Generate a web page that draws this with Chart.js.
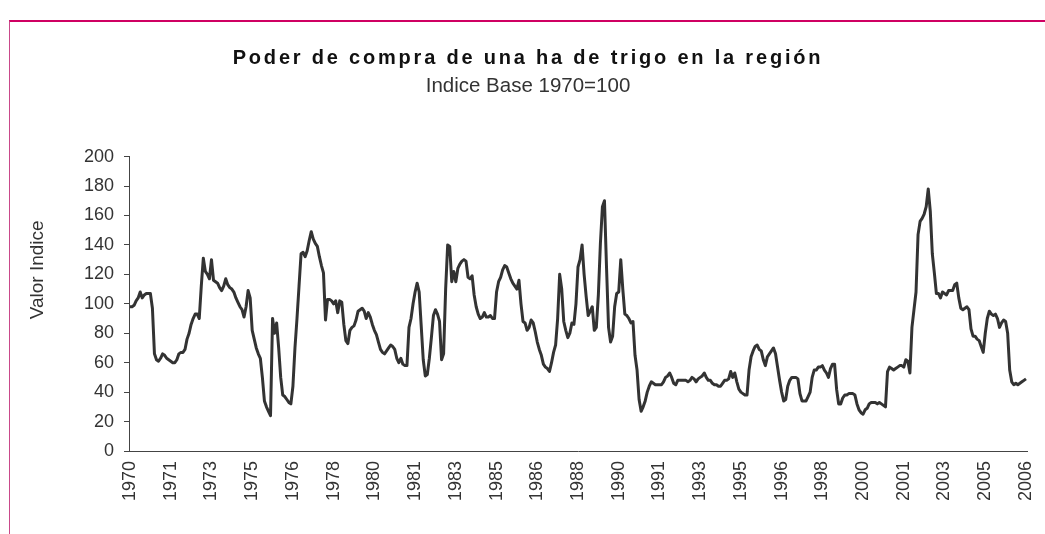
<!DOCTYPE html>
<html lang="es">
<head>
    <meta charset="UTF-8">
    <title>Poder de compra de una ha de trigo en la región</title>
    <script src="https://cdn.jsdelivr.net/npm/chart.js"></script>
    <style>
        html, body { margin: 0; padding: 0; background: #fff; overflow: hidden; }
        #marco { position: relative; width: 1045px; height: 534px; }
        /* borde rosa del recuadro original (solo arriba e izquierda visibles) */
        #borde { position: absolute; left: 9px; top: 20px; right: -10px; bottom: -10px;
                 border-top: 2px solid #cf0062; border-left: 1px solid #c9498a; }
        canvas { position: absolute; left: 0; top: 0; }
    </style>
</head>
<body>
<div id="marco">
    <div id="borde"></div>
    <canvas id="graficoTrigo" width="1045" height="534"></canvas>
</div>

<script>
    // Serie mensual desde enero de 1970
    const anioInicio = 1970;
    const intervaloEtiquetas = 20; // una etiqueta cada 20 meses, como en el original
    const marcasY = { min: 0, max: 200, paso: 20 };

    const valores = [
        98, 98, 99, 102, 104, 108, 104, 106, 107, 107, 107, 97, 66,
        62, 61, 63, 66, 65, 63, 62, 61, 60, 60, 62, 66,
        67, 67, 69, 76, 80, 86, 90, 93, 93, 90, 112, 131,
        122, 120, 117, 130, 116,
        115, 114, 111, 109, 112, 117, 113, 111, 110, 108, 104, 101,
        98, 96, 91, 98, 109, 104, 82, 76, 70, 66, 63, 50,
        34, 30, 27, 24, 90, 80, 87, 70, 50, 38, 37, 35,
        33, 32, 44, 70, 90, 112, 134, 135, 132, 136, 143, 149,
        144, 141, 139, 132, 126, 121, 89, 103, 103,
        102, 100, 102, 94, 102, 101, 86, 75, 73, 82, 84, 85,
        89, 95, 96, 97, 95, 90, 94, 91, 86, 82, 79, 74,
        69, 67, 66, 68, 70, 72, 71, 69, 63, 60, 63, 59, 58, 58,
        84, 90, 100, 108, 114, 108, 85, 62, 51, 52, 63, 77, 92, 96, 93, 88,
        62, 66, 110, 140, 139, 115, 122, 115, 124, 127, 129, 130, 129,
        118, 117, 119, 106, 98, 93, 90, 91, 94, 91, 91, 92, 90, 90,
        108, 115, 118, 123, 126, 125, 121, 117, 114, 112, 110, 116, 100,
        88, 87, 82, 84, 89, 87, 81, 74, 69, 65, 59, 57, 56, 54, 60, 67,
        72, 90, 120,
        110, 88, 82, 77, 80, 87, 86, 100, 125, 130, 140, 120, 105,
        92, 95, 98, 82, 84, 106, 141, 166, 170, 125, 84, 74, 78, 98, 107, 108,
        130, 110, 93, 92, 90, 87, 88, 65, 55, 35, 27, 30, 34, 40, 44,
        47, 46, 45, 45, 45, 45, 47, 50, 51, 53, 50, 46, 45,
        48, 48, 48, 48, 48, 47, 48, 50, 49, 47, 49, 50, 51,
        53, 50, 48, 48, 46, 45, 45, 44, 44, 46, 48, 48, 49,
        54, 50, 53, 47, 42, 40, 39, 38, 38, 55, 64, 68, 71,
        72, 69, 68, 62, 58, 64, 66, 68, 70, 66, 57, 48, 40, 34,
        35, 44, 48, 50, 50, 50, 49, 39, 34, 34, 34, 37, 40,
        50, 55, 55, 57, 57, 58, 55, 53, 50, 56, 59, 59,
        42, 32, 32, 36, 38, 38, 39, 39, 39, 38, 32, 28, 26,
        25, 28, 29, 32, 33, 33, 33, 32, 33, 32, 31, 30,
        54, 57, 56, 55, 56, 57, 58, 58, 57, 62, 61, 53,
        84, 96, 108, 147, 156, 158, 161, 166, 178, 163, 134, 121,
        107, 107, 104, 108, 107, 106, 109, 109, 109, 113, 114, 104,
        97, 96, 97, 98, 96, 83, 78, 78, 76, 75, 71, 67,
        80, 90, 95, 93, 92, 93, 90, 84, 87, 89, 88, 80,
        55, 47, 45, 46, 45, 46, 47, 48, 49
    ];

    // etiquetas "AAAA-MM" para cada mes
    const meses = valores.map((_, i) =>
        (anioInicio + Math.floor(i / 12)) + '-' + String(i % 12 + 1).padStart(2, '0'));

    const fuente = "'Liberation Sans', Arial, Helvetica, sans-serif";

    // espaciado entre letras del título y desplazamiento del título del eje Y
    const ajustesTexto = {
        id: 'ajustesTexto',
        afterInit(chart) {
            const bloque = chart.titleBlock;
            if (bloque) {
                const dibujar = bloque.draw.bind(bloque);
                bloque.draw = function () {
                    chart.ctx.save();
                    chart.ctx.letterSpacing = '2.8px';
                    dibujar();
                    chart.ctx.restore();
                };
            }
        },
        beforeDraw(chart) {
            const escala = chart.scales.y;
            if (escala._tituloMovido) return;
            const dibujar = escala.drawTitle.bind(escala);
            escala.drawTitle = function () {
                chart.ctx.save();
                chart.ctx.translate(0, -34);
                dibujar();
                chart.ctx.restore();
            };
            escala._tituloMovido = true;
        }
    };

    const ctx = document.getElementById('graficoTrigo').getContext('2d');

    const grafico = new Chart(ctx, {
        type: 'line',
        data: {
            labels: meses,
            datasets: [{
                label: 'Poder de compra',
                data: valores,
                borderColor: '#333333',
                borderWidth: 3,
                pointRadius: 0,
                tension: 0,
                fill: false,
                borderJoinStyle: 'round'
            }]
        },
        options: {
            responsive: false,
            animation: false,
            layout: { padding: { left: 11, right: 0, top: 0, bottom: 3 } },
            plugins: {
                legend: { display: false },
                tooltip: { enabled: false },
                title: {
                    display: true,
                    text: 'Poder de compra de una ha de trigo en la región',
                    color: '#111',
                    font: { family: fuente, size: 20, weight: 'bold' },
                    padding: { top: 46, bottom: 1 }
                },
                subtitle: {
                    display: true,
                    text: 'Indice Base 1970=100',
                    color: '#333',
                    font: { family: fuente, size: 20.5 },
                    padding: { top: 3, bottom: 58 }
                }
            },
            scales: {
                x: {
                    type: 'category',
                    offset: true,
                    grid: { display: false, drawTicks: false },
                    border: { display: true, color: '#444', width: 1 },
                    afterFit(scale) {
                        scale.height = 80;
                        scale.paddingLeft = 0;
                        scale.paddingRight = 18; // margen derecho del área de trazado
                    },
                    ticks: {
                        autoSkip: false,
                        maxRotation: 90,
                        minRotation: 90,
                        padding: 10,
                        color: '#333',
                        font: { family: fuente, size: 18 },
                        callback(valor, indice) {
                            return indice % intervaloEtiquetas === 0 ? meses[indice].slice(0, 4) : '';
                        }
                    }
                },
                y: {
                    min: marcasY.min,
                    max: marcasY.max,
                    afterFit(scale) { scale.width = 118; },
                    grid: { drawOnChartArea: false, drawTicks: true, tickLength: 5, color: '#444' },
                    border: { display: true, color: '#444', width: 1 },
                    ticks: {
                        stepSize: marcasY.paso,
                        padding: 10,
                        color: '#333',
                        font: { family: fuente, size: 18 }
                    },
                    title: {
                        display: true,
                        text: 'Valor Indice',
                        color: '#333',
                        font: { family: fuente, size: 19 },
                        padding: { top: 15, bottom: 0 }
                    }
                }
            }
        },
        plugins: [ajustesTexto]
    });
</script>
</body>
</html>
